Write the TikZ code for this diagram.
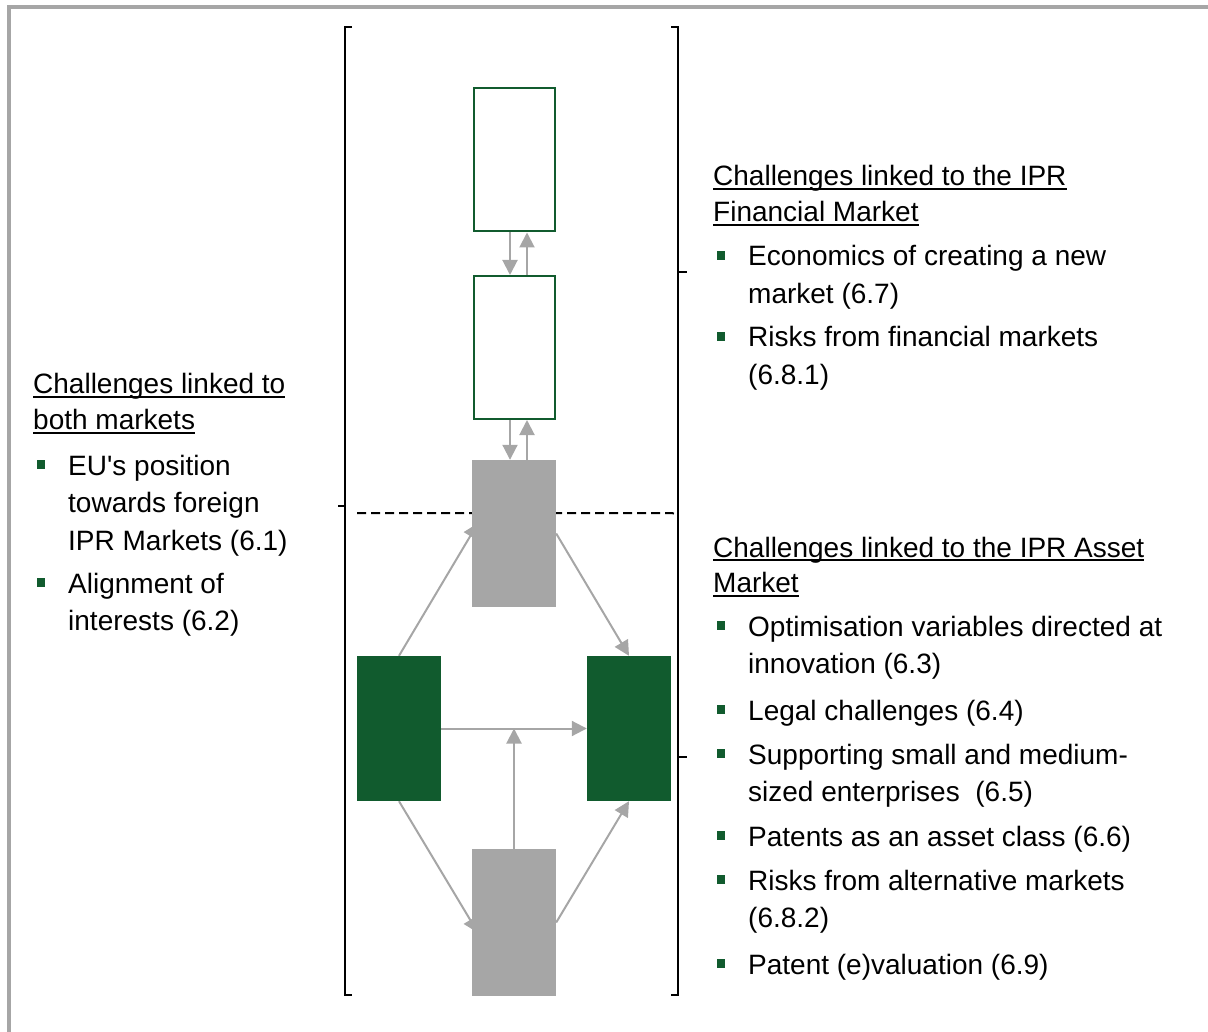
\documentclass[tikz,border=0pt]{standalone}
\usepackage{fontspec}
\setmainfont{Liberation Sans}
\usetikzlibrary{arrows.meta,backgrounds}

\definecolor{ipgreen}{RGB}{17,91,46}
\definecolor{ipgray}{RGB}{166,166,166}

% underlined heading line, rule just below the baseline
\newcommand\titleline[1]{\leavevmode\setbox0=\hbox{#1}\rlap{\rule[-4.2pt]{\wd0}{1.9pt}}\box0}
% bullet square plus item text, first line on baseline #3
\newcommand\challengeitem[4]{%
  \node[bulletsq] (#1sq) at ({#2},{#3-10.5}) {};
  \node[itemtext] (#1) at ({#2+27},{#3}) {\parbox[t]{460pt}{\baselineskip=37.5pt #4}};
}

\tikzset{
  stagebox/.style={draw=ipgreen, line width=2pt, fill=white, minimum width=81pt, minimum height=143pt, inner sep=0},
  greenbox/.style={fill=ipgreen, minimum width=84pt, minimum height=145pt, inner sep=0},
  graybox/.style={fill=ipgray, minimum width=84pt, minimum height=147pt, inner sep=0},
  flow/.style={draw=ipgray, line width=2pt, -{Triangle[length=15pt,width=15pt]}},
  bracket/.style={line width=2.2pt},
  divider/.style={line width=2pt, dash pattern=on 9pt off 5pt},
  bulletsq/.style={fill=ipgreen, minimum size=8.5pt, inner sep=0},
  itemtext/.style={anchor=base west, inner sep=0},
}

\begin{document}
\begin{tikzpicture}[x=1pt,y=-1pt,font=\fontsize{28}{37.5}\selectfont]
\useasboundingbox (0,0) rectangle (1208,1032);
% frame
\draw[ipgray,line width=3.5pt] (9,1040) -- (9,7) -- (1220,7);

% market blocks
\node[stagebox] (fin1) at (514,160) {};
\node[stagebox] (fin2) at (514,347.5) {};
\node[graybox] (hub) at (514,533.5) {};
\node[greenbox] (left) at (399,728.5) {};
\node[greenbox] (right) at (629,728.5) {};
\node[graybox] (base) at (514,922.5) {};

\begin{scope}[on background layer]
  \draw[divider] (357,513) -- (672,513) -- (678,515);
  \draw[flow] ([xshift=-4pt]fin1.south) -- ([xshift=-4pt]fin2.north);
  \draw[flow] ([xshift=13pt]fin2.north) -- ([xshift=13pt]fin1.south);
  \draw[flow] ([xshift=-4pt]fin2.south) -- ([xshift=-4pt]hub.north);
  \draw[flow] ([xshift=13pt]hub.north) -- ([xshift=13pt]fin2.south);
  \draw[flow, shorten >=-12pt] (left.north) -- (hub.west);
  \draw[flow] (hub.east) -- (right.north);
  \draw[flow] (left.east) -- (right.west);
  \draw[flow] (base.north) -- (base.north |- left.east);
  \draw[flow, shorten >=-12pt] (left.south) -- (base.west);
  \draw[flow] (base.east) -- (right.south);
\end{scope}

% brackets
\draw[bracket] (352,27) -- (345,27) -- (345,995) -- (352,995);
\draw[bracket] (345,506) -- (338,506);
\draw[bracket] (671,27) -- (678,27) -- (678,995) -- (671,995);
\draw[bracket] (678,272) -- (687,272);
\draw[bracket] (678,757) -- (687,757);

% financial market
\node[itemtext] (fintitle) at (713,186) {\parbox[t]{460pt}{\baselineskip=35.5pt
  \titleline{Challenges linked to the IPR}\\ \titleline{Financial Market}}};
\challengeitem{econ}{721}{266}{Economics of creating a new\\ market (6.7)}
\challengeitem{finrisk}{721}{347}{Risks from financial markets\\ (6.8.1)}

% asset market
\node[itemtext] (assettitle) at (713,557) {\parbox[t]{460pt}{\baselineskip=35.5pt
  \titleline{Challenges linked to the IPR Asset}\\ \titleline{Market}}};
\challengeitem{optim}{721}{636}{Optimisation variables directed at\\ innovation (6.3)}
\challengeitem{legal}{721}{720}{Legal challenges (6.4)}
\challengeitem{sme}{721}{764}{Supporting small and medium-\\ sized enterprises~ (6.5)}
\challengeitem{asset}{721}{846}{Patents as an asset class (6.6)}
\challengeitem{altrisk}{721}{890}{Risks from alternative markets\\ (6.8.2)}
\challengeitem{evalu}{721}{974}{Patent (e)valuation (6.9)}

% both markets
\node[itemtext] (bothtitle) at (33,394) {\parbox[t]{460pt}{\baselineskip=35.5pt
  \titleline{Challenges linked to}\\ \titleline{both markets}}};
\challengeitem{euro}{41}{475}{EU\textquotesingle s position\\ towards foreign\\ IPR Markets (6.1)}
\challengeitem{align}{41}{593}{Alignment of\\ interests (6.2)}
\end{tikzpicture}
\end{document}
